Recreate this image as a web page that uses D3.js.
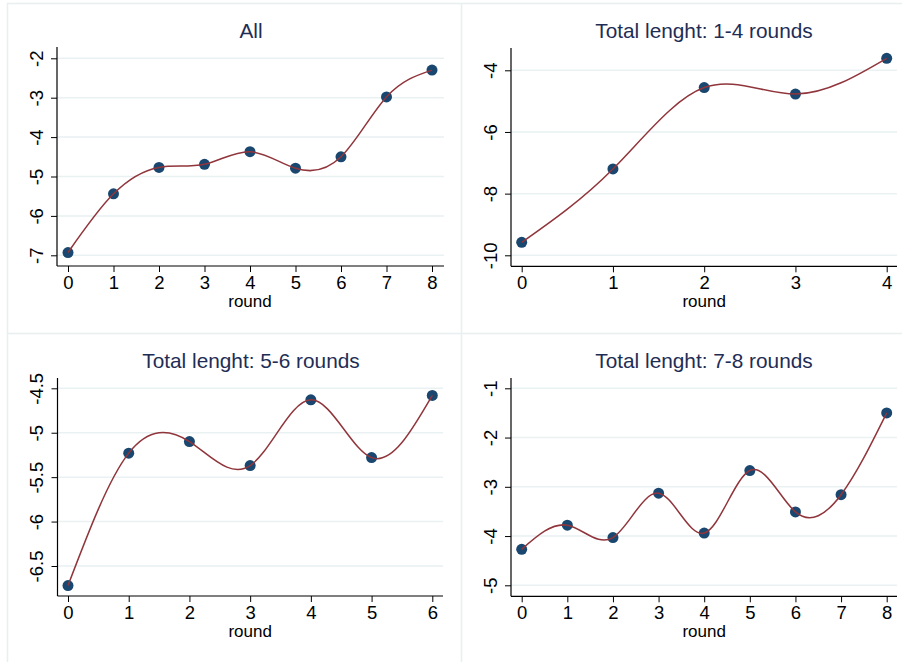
<!DOCTYPE html>
<html>
<head>
<meta charset="utf-8">
<script src="https://cdn.jsdelivr.net/npm/d3@7"></script>
<style>
  body { margin: 0; background: #fff; }
  svg { display: block; font-family: "Liberation Sans", Arial, sans-serif; }
  .grid line { stroke: #e9f1f2; stroke-width: 1.5; }
  .tick-label { fill: #000; }
  .panel-title { font-size: 20.8px; fill: #1e2d55; }
</style>
</head>
<body>
<svg id="chart"></svg>
<script>
// data
const titles = ["All", "Total lenght: 1-4 rounds", "Total lenght: 5-6 rounds", "Total lenght: 7-8 rounds"];

const roundsAll = [0, 1, 2, 3, 4, 5, 6, 7, 8];
const valuesAll = [-6.93, -5.44, -4.77, -4.69, -4.37, -4.79, -4.50, -2.98, -2.30];
const yTicksAll = [-7, -6, -5, -4, -3, -2];

const rounds14 = [0, 1, 2, 3, 4];
const values14 = [-9.58, -7.20, -4.56, -4.77, -3.61];
const yTicks14 = [-10, -8, -6, -4];

const rounds56 = [0, 1, 2, 3, 4, 5, 6];
const values56 = [-6.72, -5.23, -5.10, -5.37, -4.63, -5.28, -4.58];
const yTicks56 = [-6.5, -6, -5.5, -5, -4.5];

const rounds78 = [0, 1, 2, 3, 4, 5, 6, 7, 8];
const values78 = [-4.27, -3.78, -4.03, -3.13, -3.94, -2.67, -3.51, -3.16, -1.50];
const yTicks78 = [-5, -4, -3, -2, -1];

const width = 902, height = 662;

const svg = d3.select('#chart')
  .attr('width', width)
  .attr('height', height);

// panel frames (graph combine borders)
const borderColor = '#e8eff0';
svg.append('line').attr('x1', 7).attr('x2', width).attr('y1', 3.5).attr('y2', 3.5)
  .attr('stroke', borderColor).attr('stroke-width', 1.5);
svg.append('line').attr('x1', 7).attr('x2', width).attr('y1', 333.5).attr('y2', 333.5)
  .attr('stroke', borderColor).attr('stroke-width', 1.5);
svg.append('line').attr('x1', 7.5).attr('x2', 7.5).attr('y1', 3).attr('y2', height)
  .attr('stroke', borderColor).attr('stroke-width', 1.5);
svg.append('line').attr('x1', 461.5).attr('x2', 461.5).attr('y1', 3).attr('y2', height)
  .attr('stroke', borderColor).attr('stroke-width', 1.5);

const panels = [
  { title: titles[0], xs: roundsAll, ys: valuesAll, yTicks: yTicksAll,
    xRange: [68, 432], yRange: [255.3, 58.3], left: 57, top: 47, bottom: 266, right: 444, titleX: 251, titleY: 38 },
  { title: titles[1], xs: rounds14, ys: values14, yTicks: yTicks14,
    xRange: [521.7, 886.7], yRange: [255.3, 70.3], left: 511, top: 48, bottom: 266.3, right: 897, titleX: 704, titleY: 38 },
  { title: titles[2], xs: rounds56, ys: values56, yTicks: yTicks56,
    xRange: [68, 432.3], yRange: [566, 388.3], left: 57.5, top: 378, bottom: 596, right: 443, titleX: 251, titleY: 368 },
  { title: titles[3], xs: rounds78, ys: values78, yTicks: yTicks78,
    xRange: [521.7, 886.7], yRange: [585.3, 388.3], left: 511, top: 378, bottom: 596.3, right: 897, titleX: 704, titleY: 368 }
];

panels.forEach(p => drawPanel(p));

function drawPanel(p) {
  const g = svg.append('g');

  const x = d3.scaleLinear()
    .domain(d3.extent(p.xs))
    .range(p.xRange);

  const y = d3.scaleLinear()
    .domain(d3.extent(p.yTicks))
    .range(p.yRange);

  // gridlines
  g.append('g').attr('class', 'grid')
    .selectAll('line')
    .data(p.yTicks)
    .join('line')
    .attr('x1', p.left)
    .attr('x2', p.right)
    .attr('y1', d => y(d))
    .attr('y2', d => y(d));

  // y axis (plain hyphen, like Stata)
  const yAxis = d3.axisLeft(y).tickValues(p.yTicks).tickSize(6).tickFormat(d => String(d));
  const ya = g.append('g')
    .attr('transform', `translate(${p.left},0)`)
    .call(yAxis);
  ya.select('.domain').remove();
  ya.selectAll('.tick line').attr('stroke', '#000').attr('stroke-width', 1);
  ya.selectAll('.tick text')
    .attr('class', 'tick-label')
    .attr('x', 0)
    .attr('dy', 0)
    .attr('text-anchor', 'middle')
    .attr('transform', 'translate(-21,0) rotate(-90)')
    .attr('dominant-baseline', 'central')
    .style('font-size', '18.5px')
    .attr('font-family', null);
  g.append('line')
    .attr('x1', p.left).attr('x2', p.left)
    .attr('y1', p.top).attr('y2', p.bottom)
    .attr('stroke', '#000').attr('stroke-width', 1.2);

  // x axis
  const xAxis = d3.axisBottom(x).tickValues(p.xs).tickSize(6).tickPadding(4).tickFormat(d3.format('d'));
  const xa = g.append('g')
    .attr('transform', `translate(0,${p.bottom})`)
    .call(xAxis);
  xa.select('.domain').remove();
  xa.selectAll('.tick line').attr('stroke', '#000').attr('stroke-width', 1);
  xa.selectAll('.tick text')
    .attr('class', 'tick-label')
    .style('font-size', '18.5px')
    .attr('font-family', null);
  g.append('line')
    .attr('x1', p.left).attr('x2', p.right)
    .attr('y1', p.bottom).attr('y2', p.bottom)
    .attr('stroke', '#000').attr('stroke-width', 1.2);

  g.append('text')
    .attr('x', d3.mean(p.xRange))
    .attr('y', p.bottom + 41)
    .attr('text-anchor', 'middle')
    .style('font-size', '17px')
    .text('round');

  // title
  g.append('text')
    .attr('class', 'panel-title')
    .attr('x', p.titleX)
    .attr('y', p.titleY)
    .attr('text-anchor', 'middle')
    .text(p.title);

  const pts = p.xs.map((r, i) => [r, p.ys[i]]);

  // spline through the means
  const line = d3.line()
    .x(d => x(d[0]))
    .y(d => y(d[1]))
    .curve(d3.curveNatural);

  g.append('g')
    .selectAll('circle')
    .data(pts)
    .join('circle')
    .attr('cx', d => x(d[0]))
    .attr('cy', d => y(d[1]))
    .attr('r', 5.5)
    .attr('fill', '#1a476f');

  g.append('path')
    .datum(pts)
    .attr('d', line)
    .attr('fill', 'none')
    .attr('stroke', '#90353b')
    .attr('stroke-width', 1.5);
}
</script>
</body>
</html>
